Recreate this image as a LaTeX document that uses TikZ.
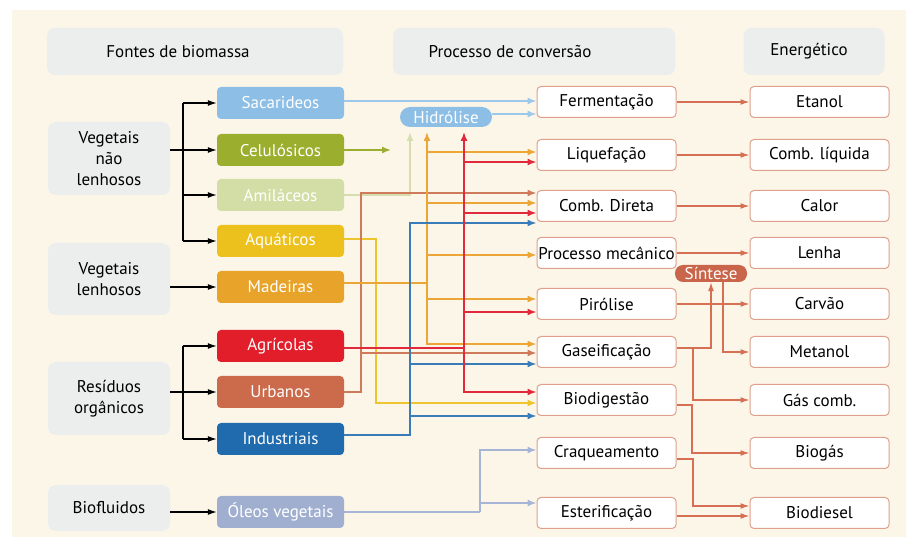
\documentclass[tikz,border=0pt]{standalone}
\usepackage{fontspec}
\setmainfont{PT Sans}
\usetikzlibrary{arrows.meta}

\definecolor{cream}{RGB}{252,246,233}
\definecolor{hdrgray}{RGB}{236,237,237}
\definecolor{sacblue}{RGB}{141,191,230}
\definecolor{celgreen}{RGB}{155,174,46}
\definecolor{amigreen}{RGB}{211,221,166}
\definecolor{aquyellow}{RGB}{236,193,30}
\definecolor{madorange}{RGB}{232,163,42}
\definecolor{agrred}{RGB}{226,30,43}
\definecolor{urbterra}{RGB}{204,106,76}
\definecolor{indblue}{RGB}{31,107,174}
\definecolor{oleolav}{RGB}{160,175,207}
\definecolor{sacline}{RGB}{156,200,234}
\definecolor{amiline}{RGB}{214,222,176}
\definecolor{aquline}{RGB}{239,197,47}
\definecolor{madline}{RGB}{235,166,55}
\definecolor{agrline}{RGB}{224,41,58}
\definecolor{urbline}{RGB}{208,122,92}
\definecolor{indline}{RGB}{58,124,184}
\definecolor{oleline}{RGB}{166,181,214}
\definecolor{procline}{RGB}{222,160,140}
\definecolor{outarrow}{RGB}{214,112,84}
\definecolor{sinfill}{RGB}{200,101,74}

\begin{document}
\begin{tikzpicture}[x=1pt,y=-1pt,
  every node/.style={font=\fontsize{17}{21}\selectfont, inner sep=0pt},
  hdr/.style={fill=hdrgray, rounded corners=8pt, minimum height=47pt},
  catbox/.style={fill=hdrgray, rounded corners=8pt, minimum width=122pt, align=center},
  srcbox/.style={fill=#1, rounded corners=4pt, minimum width=127pt, minimum height=32pt, text=white},
  procbox/.style={draw=procline, fill=white, line width=1pt, rounded corners=4pt, minimum width=139pt, minimum height=31pt},
  pline/.style={draw=#1, line width=1.6pt},
  feed/.style={draw=#1, line width=1.6pt, -{Latex[length=9pt,width=7pt]}},
  blk/.style={line width=1.2pt, -{Latex[length=9pt,width=6pt]}},
  outlink/.style={draw=outarrow, line width=1.3pt, -{Latex[length=9pt,width=6pt]}},
]

%% background
\fill[white] (0,0) rectangle (906,537);
\fill[cream] (12,10) rectangle (906,537);
\useasboundingbox (0,0) rectangle (906,537);

%% headers
\node[hdr, minimum width=296pt] (hsrc) at (195,51.5) {};
\node at (178,51.5) {Fontes de biomassa};
\node[hdr, minimum width=282pt] (hproc) at (534,51.5) {};
\node at (510,51.5) {Processo de conversão};
\node[hdr, minimum width=141pt] (hout) at (814,51.5) {};
\node at (809,51.5) {Energético};

%% categories
\node[catbox, minimum height=73pt] (vnl) at (109,158.5) {Vegetais\\não\\lenhosos};
\node[catbox, minimum height=72pt] (vl) at (109,279) {Vegetais\\lenhosos};
\node[catbox, minimum height=73pt] (res) at (109,398.5) {Resíduos\\orgânicos};
\node[catbox, minimum height=46pt] (bfl) at (109,508) {Biofluidos};

%% sources
\node[srcbox=sacblue] (sac) at (280.5,103) {Sacarideos};
\node[srcbox=celgreen] (cel) at (280.5,150) {Celulósicos};
\node[srcbox=amigreen] (ami) at (280.5,195) {Amiláceos};
\node[srcbox=aquyellow] (aqu) at (280.5,241) {Aquáticos};
\node[srcbox=madorange] (mad) at (280.5,287) {Madeiras};
\node[srcbox=agrred] (agr) at (280.5,346) {Agrícolas};
\node[srcbox=urbterra] (urb) at (280.5,392) {Urbanos};
\node[srcbox=indblue] (ind) at (280.5,439) {Industriais};
\node[srcbox=oleolav] (ole) at (280.5,512) {Óleos vegetais};

%% processes
\node[procbox] (ferm) at (606.5,102) {Fermentação};
\node[procbox] (liq) at (606.5,155) {Liquefação};
\node[procbox] (cdir) at (606.5,206) {Comb. Direta};
\node[procbox] (mec) at (606.5,253) {Processo mecânico};
\node[procbox] (pir) at (606.5,304) {Pirólise};
\node[procbox] (gas) at (606.5,352) {Gaseificação};
\node[procbox] (bio) at (606.5,400) {Biodigestão};
\node[procbox] (craq) at (606.5,453) {Craqueamento};
\node[procbox] (est) at (606.5,513) {Esterificação};

\node[fill=sacblue, rounded corners=10pt, minimum width=92pt, minimum height=20pt, text=white] (hid) at (446,117) {Hidrólise};
\node[fill=sinfill, rounded corners=8pt, minimum width=72pt, minimum height=17pt, text=white] (sin) at (711,273.5) {Síntese};

%% products
\node[procbox] (eta) at (819.5,102) {Etanol};
\node[procbox] (cliq) at (819.5,155) {Comb. líquida};
\node[procbox] (cal) at (819.5,206) {Calor};
\node[procbox] (len) at (819.5,253) {Lenha};
\node[procbox] (carv) at (819.5,304) {Carvão};
\node[procbox] (met) at (819.5,352) {Metanol};
\node[procbox] (gcomb) at (819.5,400) {Gás comb.};
\node[procbox] (biog) at (819.5,453) {Biogás};
\node[procbox] (biod) at (819.5,513) {Biodiesel};

%% trunks
\coordinate (tvnl) at (183,0);
\coordinate (tres) at (183,0);
\coordinate (celend) at (391,150);
\coordinate (xami) at (410,132);
\coordinate (xmad) at (427,132);
\coordinate (xagr) at (464,132);
\coordinate (xaqu) at (376,0);
\coordinate (xurb) at (361,0);
\coordinate (xind) at (410,0);
\coordinate (xole) at (480,0);
\coordinate (xgas) at (693,0);
\coordinate (xsin) at (723,0);
\coordinate (xbio) at (692,0);
\coordinate (xcraq) at (693,0);

%% black arrows
\draw[line width=1.2pt] (tvnl |- sac) -- (tvnl |- aqu);
\draw[blk] (vnl.east |- cel) -- (cel.west);
\foreach \n in {sac,ami,aqu} \draw[blk] (tvnl |- \n) -- (\n.west);
\draw[blk] (vl.east |- mad) -- (mad.west);
\draw[line width=1.2pt] (tres |- agr) -- (tres |- ind);
\draw[blk] (res.east |- urb) -- (urb.west);
\foreach \n in {agr,ind} \draw[blk] (tres |- \n) -- (\n.west);
\draw[blk] (bfl.east |- ole) -- (ole.west);

%% feeds
\draw[feed=sacline] (sac.east |- 0,101) -- (ferm.west |- 0,101);
\draw[feed=sacline] (hid.east |- 0,114) -- (ferm.west |- 0,114);
\draw[feed=celgreen] (cel.east) -- (celend);
\draw[feed=amiline] (ami.east) -| (xami);

\draw[pline=aquline, -{Latex[length=9pt,width=7pt]}] (aqu.east |- 0,239) -| (xaqu |- 0,403) -- (bio.west |- 0,403);

\draw[pline=urbline, -{Latex[length=9pt,width=7pt]}] (urb.east) -| (xurb |- 0,193) -- (cdir.west |- 0,193);
\draw[feed=urbline] (xurb |- 0,353) -- (gas.west |- 0,353);

\draw[pline=madline] (mad.east |- 0,283) -- (xmad |- 0,283);
\draw[pline=madline, {Latex[length=9pt,width=7pt]}-{Latex[length=9pt,width=7pt]}] (xmad) -- (xmad |- 0,344) -- (gas.west |- 0,344);
\foreach \y/\t in {152/liq, 203/cdir, 255/mec, 299/pir}
  \draw[feed=madline] (xmad |- 0,\y) -- (\t.west |- 0,\y);

\draw[pline=indline, -{Latex[length=9pt,width=7pt]}] (ind.east |- 0,435) -| (xind |- 0,223) -- (cdir.west |- 0,223);
\foreach \y/\t in {364/gas, 416/bio}
  \draw[feed=indline] (xind |- 0,\y) -- (\t.west |- 0,\y);

\draw[pline=agrline] (agr.east |- 0,348) -- (xagr |- 0,348);
\draw[pline=agrline, {Latex[length=9pt,width=7pt]}-{Latex[length=9pt,width=7pt]}] (xagr) -- (xagr |- 0,392) -- (bio.west |- 0,392);
\foreach \y/\t in {162/liq, 213/cdir, 312/pir}
  \draw[feed=agrline] (xagr |- 0,\y) -- (\t.west |- 0,\y);

\draw[pline=oleline] (ole.east) -- (xole |- ole);
\draw[feed=oleline] (xole |- ole) |- (craq.west |- 0,450);
\draw[feed=oleline] (xole |- 0,503) -- (est.west |- 0,503);

%% products
\foreach \a/\b in {ferm/eta, liq/cliq, cdir/cal, mec/len, pir/carv}
  \draw[outlink] (\a.east) -- (\b.west);
\draw[outlink] (gas.east |- 0,348) -| (sin.south);
\draw[outlink] (xgas |- 0,348) |- (gcomb.west);
\draw[outlink] (xsin |- sin.south) |- (met.west);
\draw[outlink] (bio.east |- 0,405) -| (xbio |- biog) -- (biog.west);
\draw[outlink] (craq.east |- 0,459) -| (xcraq |- 0,506) -- (biod.west |- 0,506);
\draw[outlink] (est.east |- 0,516) -- (biod.west |- 0,516);

\end{tikzpicture}
\end{document}
